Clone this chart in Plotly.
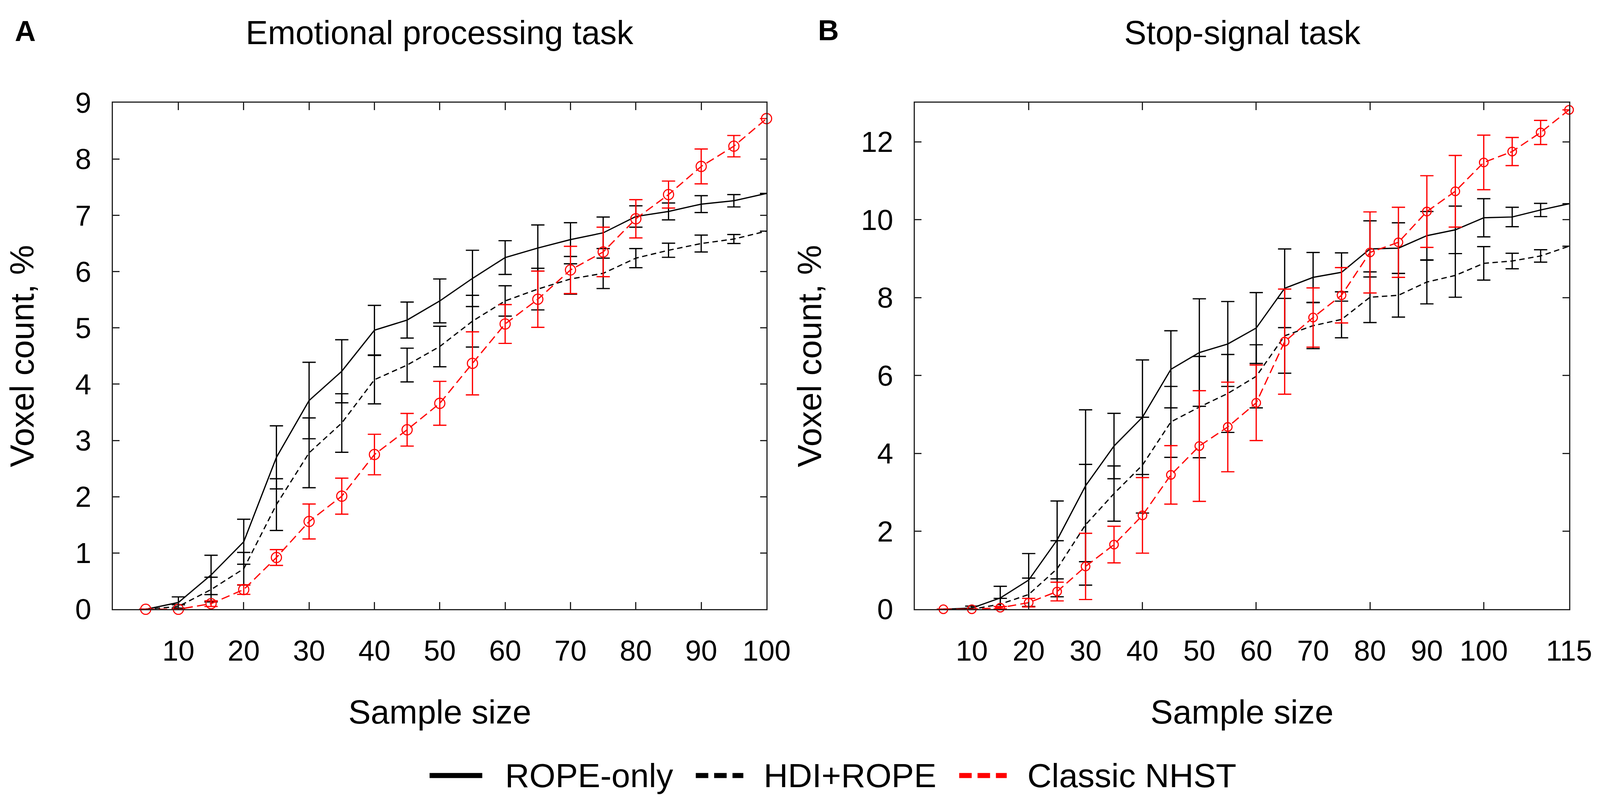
import plotly.graph_objects as go

# sample sizes
x_a = [5, 10, 15, 20, 25, 30, 35, 40, 45, 50, 55, 60, 65, 70, 75, 80, 85, 90, 95, 100]
x_b = [5, 10, 15, 20, 25, 30, 35, 40, 45, 50, 55, 60, 65, 70, 75, 80, 85, 90, 95, 100, 105, 110, 115]

# A - emotional processing task (voxel count, %)
rope_a = [0, 0.12, 0.61, 1.20, 2.70, 3.71, 4.23, 4.96, 5.14, 5.48, 5.88, 6.25, 6.42, 6.57, 6.69, 6.98, 7.07, 7.20, 7.26, 7.39]
rope_a_err = [0, 0.10, 0.35, 0.40, 0.56, 0.68, 0.56, 0.44, 0.32, 0.39, 0.50, 0.30, 0.41, 0.30, 0.28, 0.19, 0.15, 0.15, 0.11, 0]
hdi_a = [0, 0.05, 0.35, 0.72, 1.86, 2.78, 3.31, 4.08, 4.34, 4.67, 5.12, 5.48, 5.69, 5.87, 5.97, 6.24, 6.38, 6.50, 6.58, 6.72]
hdi_a_err = [0, 0.03, 0.22, 0.29, 0.46, 0.62, 0.52, 0.43, 0.30, 0.36, 0.46, 0.27, 0.37, 0.27, 0.27, 0.17, 0.125, 0.15, 0.08, 0]
nhst_a = [0, 0, 0.10, 0.35, 0.92, 1.56, 2.01, 2.75, 3.19, 3.66, 4.37, 5.07, 5.51, 6.03, 6.35, 6.94, 7.37, 7.87, 8.23, 8.72]
nhst_a_err = [0, 0, 0.05, 0.085, 0.14, 0.31, 0.32, 0.36, 0.29, 0.39, 0.56, 0.345, 0.50, 0.42, 0.44, 0.34, 0.24, 0.31, 0.19, 0]

# B - stop-signal task
rope_b = [0, 0.03, 0.29, 0.75, 1.78, 3.17, 4.19, 4.93, 6.16, 6.59, 6.81, 7.22, 8.24, 8.52, 8.65, 9.25, 9.27, 9.59, 9.74, 10.05, 10.07, 10.25, 10.41]
rope_b_err = [0, 0.05, 0.30, 0.68, 1.0, 1.95, 0.84, 1.47, 0.99, 1.38, 1.09, 0.91, 1.01, 0.64, 0.50, 0.72, 0.65, 0.62, 0.61, 0.49, 0.25, 0.17, 0]
hdi_b = [0, 0, 0.13, 0.38, 1.04, 2.17, 2.97, 3.70, 4.81, 5.19, 5.54, 5.98, 7.02, 7.28, 7.44, 8.01, 8.06, 8.40, 8.57, 8.88, 8.94, 9.07, 9.32]
hdi_b_err = [0, 0, 0.15, 0.42, 0.72, 1.55, 0.71, 1.23, 0.91, 1.30, 1.0, 0.81, 0.96, 0.59, 0.47, 0.65, 0.56, 0.56, 0.56, 0.43, 0.20, 0.16, 0]
nhst_b = [0, 0, 0.04, 0.17, 0.455, 1.10, 1.66, 2.41, 3.45, 4.19, 4.68, 5.30, 6.87, 7.49, 8.06, 9.16, 9.42, 10.21, 10.73, 11.47, 11.75, 12.24, 12.82]
nhst_b_err = [0, 0, 0.03, 0.11, 0.24, 0.85, 0.47, 0.97, 0.75, 1.42, 1.15, 0.97, 1.35, 0.76, 0.71, 1.04, 0.90, 0.92, 0.92, 0.70, 0.36, 0.31, 0]

xticks_a = [10, 20, 30, 40, 50, 60, 70, 80, 90, 100]
xlabels_b = [10, 20, 30, 40, 50, 60, 70, 80, 90, 100, 115]
xticks_b = [20, 40, 60, 80, 100]

series_names = ['ROPE-only', 'HDI+ROPE', 'Classic NHST']

FONT = 'Liberation Sans, Arial, sans-serif'
AX = '#222222'
RED = '#ff0000'

fig = go.Figure()


def add_panel(xs, rope, rope_err, hdi, hdi_err, nhst, nhst_err, xa, ya, msize):
    fig.add_trace(go.Scatter(
        x=xs, y=rope, mode='lines', xaxis=xa, yaxis=ya, showlegend=False,
        line=dict(color='black', width=3.2),
        error_y=dict(type='data', array=rope_err, color='black', thickness=3.2, width=17)))
    fig.add_trace(go.Scatter(
        x=xs, y=hdi, mode='lines', xaxis=xa, yaxis=ya, showlegend=False,
        line=dict(color='black', width=3.2, dash='14px,9px'),
        error_y=dict(type='data', array=hdi_err, color='black', thickness=3.2, width=17)))
    fig.add_trace(go.Scatter(
        x=xs, y=nhst, mode='lines+markers', xaxis=xa, yaxis=ya, showlegend=False,
        cliponaxis=False,
        line=dict(color=RED, width=3.2, dash='22px,11px'),
        marker=dict(symbol='circle-open', size=msize, color=RED, line=dict(width=2.8, color=RED)),
        error_y=dict(type='data', array=nhst_err, color=RED, thickness=3.2, width=17)))


add_panel(x_a, rope_a, rope_a_err, hdi_a, hdi_a_err, nhst_a, nhst_a_err, 'x', 'y', 26)
add_panel(x_b, rope_b, rope_b_err, hdi_b, hdi_b_err, nhst_b, nhst_b_err, 'x2', 'y2', 22)

common = dict(showline=True, linewidth=2.7, linecolor=AX, mirror='ticks', showgrid=False,
              zeroline=False, tickfont=dict(family=FONT, size=74, color='black'))
ytick = dict(ticks='inside', ticklen=17, tickwidth=2.7, tickcolor=AX, ticklabelstandoff=38)

# the window is narrower than the stated size, so the width follows the page
fig.update_layout(
    height=2072, autosize=True,
    paper_bgcolor='white', plot_bgcolor='white',
    margin=dict(l=0, r=0, t=0, b=0),
    font=dict(family=FONT, color='black'),
    xaxis=dict(domain=[0.0635, 0.4828], range=[0, 100], tickvals=xticks_a,
               ticks='inside', ticklen=19, tickwidth=2.7, tickcolor=AX, ticklabelstandoff=40,
               anchor='y', title=dict(text='Sample size', font=dict(size=86), standoff=86), **common),
    yaxis=dict(domain=[0.2401, 0.8922], range=[0, 9], dtick=1, anchor='x',
               title=dict(text='Voxel count, %', font=dict(size=86), standoff=124), **ytick, **common),
    xaxis2=dict(domain=[0.5780, 0.9977], range=[0, 115], tickvals=xlabels_b, ticks='',
                ticklabelstandoff=40,
                minor=dict(tickvals=xticks_b, ticks='inside', ticklen=19, tickwidth=2.7, tickcolor=AX),
                anchor='y2',
                title=dict(text='Sample size', font=dict(size=86), standoff=86), **common),
    yaxis2=dict(domain=[0.2401, 0.8922], range=[0, 13], dtick=2, anchor='x2',
                title=dict(text='Voxel count, %', font=dict(size=86), standoff=74), **ytick, **common),
)

# panel titles and letters
fig.add_annotation(x=0.2731, y=0.9826, xref='paper', yref='paper', text='Emotional processing task',
                   showarrow=False, xanchor='center', yanchor='middle', font=dict(size=85))
fig.add_annotation(x=0.7880, y=0.9826, xref='paper', yref='paper', text='Stop-signal task',
                   showarrow=False, xanchor='center', yanchor='middle', font=dict(size=85))
fig.add_annotation(x=0.0, y=0.9846, xref='paper', yref='paper', text='<b>A</b>',
                   showarrow=False, xanchor='left', yanchor='middle', font=dict(size=74))
fig.add_annotation(x=0.5153, y=0.9856, xref='paper', yref='paper', text='<b>B</b>',
                   showarrow=False, xanchor='left', yanchor='middle', font=dict(size=74))

# legend drawn below both panels
leg_y = 0.026
leg_items = [
    (series_names[0], 'black', 'solid', 0.2666, 0.3004, 0.3145),
    (series_names[1], 'black', '32px,15px', 0.4374, 0.4679, 0.4804),
    (series_names[2], RED, '32px,15px', 0.6064, 0.6369, 0.6495),
]
for name, col, dash, x0, x1, xt in leg_items:
    fig.add_shape(type='line', xref='paper', yref='paper', x0=x0, x1=x1, y0=leg_y, y1=leg_y,
                  line=dict(color=col, width=13, dash=dash))
    fig.add_annotation(x=xt, y=leg_y, xref='paper', yref='paper', text=name, showarrow=False,
                       xanchor='left', yanchor='middle', font=dict(size=86))

fig.write_html('out.html')
